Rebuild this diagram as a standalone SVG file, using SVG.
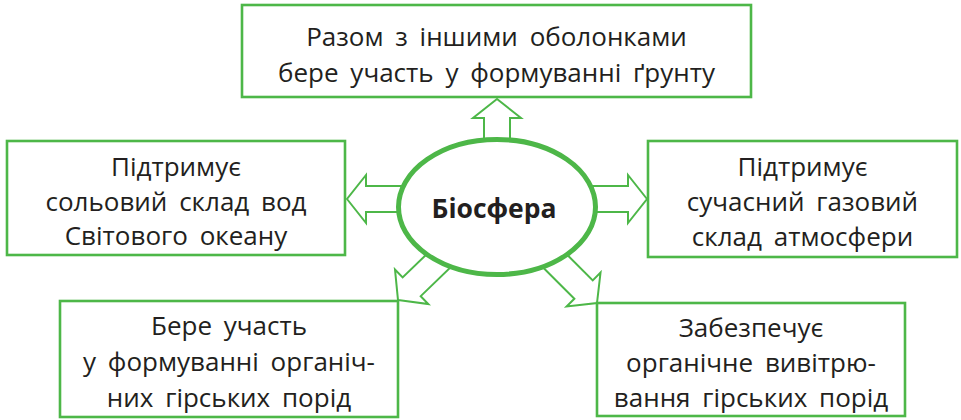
<svg xmlns="http://www.w3.org/2000/svg" width="961" height="420" viewBox="0 0 961 420">
<style>
.box{fill:#fff;stroke:#4db748;stroke-width:2.6}
.arr{fill:#fff;stroke:#4db748;stroke-width:2;stroke-linejoin:miter}
.t{font-family:"Open Sans","Noto Sans",sans-serif;font-size:26px;fill:#231f20;text-anchor:middle;word-spacing:5px}
.b{font-family:"Open Sans","Noto Sans",sans-serif;font-size:26.5px;font-weight:bold;fill:#231f20;text-anchor:middle}
</style>
<defs>
<path id="ar" d="M0,0 L-19,-24 L-19,-13 L-70,-13 L-70,13 L-19,13 L-19,24 Z"/>
</defs>
<rect width="961" height="420" fill="#fff"/>
<g id="connectors">
<use href="#ar" class="arr" transform="translate(497,99) rotate(-90)"/>
<use href="#ar" class="arr" transform="translate(347,199) rotate(180)"/>
<use href="#ar" class="arr" transform="translate(647,199)"/>
<use href="#ar" class="arr" transform="translate(398,300) rotate(136)"/>
<use href="#ar" class="arr" transform="translate(597,303) rotate(45)"/>
</g>
<g id="center">
<ellipse cx="497" cy="207" rx="98.5" ry="67.5" fill="#fff" stroke="#4db748" stroke-width="5"/>
<text class="b" x="494" y="218">Біосфера</text>
</g>
<g id="top">
<rect class="box" x="242" y="5" width="509" height="92"/>
<text class="t" x="496.5" y="46">Разом з іншими оболонками</text>
<text class="t" x="496.5" y="82">бере участь у формуванні ґрунту</text>
</g>
<g id="left">
<rect class="box" x="7" y="141" width="338" height="114"/>
<text class="t" x="176" y="176">Підтримує</text>
<text class="t" x="176" y="211">сольовий склад вод</text>
<text class="t" x="176" y="245">Світового океану</text>
</g>
<g id="right">
<rect class="box" x="648" y="141" width="309" height="116"/>
<text class="t" x="802.5" y="176">Підтримує</text>
<text class="t" x="802.5" y="211">сучасний газовий</text>
<text class="t" x="802.5" y="246">склад атмосфери</text>
</g>
<g id="bottomleft">
<rect class="box" x="60" y="301" width="338" height="116"/>
<text class="t" x="229" y="335">Бере участь</text>
<text class="t" x="229" y="371">у формуванні органіч-</text>
<text class="t" x="229" y="407">них гірських порід</text>
</g>
<g id="bottomright">
<rect class="box" x="597" y="303" width="308" height="113"/>
<text class="t" x="751" y="337">Забезпечує</text>
<text class="t" x="751" y="372">органічне вивітрю-</text>
<text class="t" x="751" y="407">вання гірських порід</text>
</g>
</svg>
